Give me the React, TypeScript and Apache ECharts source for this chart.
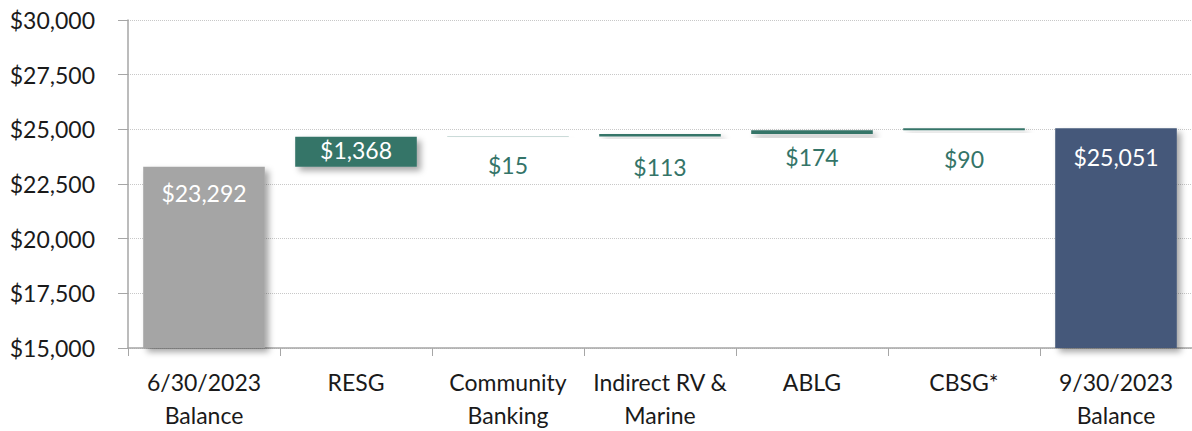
import React, { useEffect, useRef } from "react";
import * as echarts from "echarts";

const categories = [
  "6/30/2023\nBalance",
  "RESG",
  "Community\nBanking",
  "Indirect RV &\nMarine",
  "ABLG",
  "CBSG*",
  "9/30/2023\nBalance",
];
const startBalance = 23292;
const changes = [1368, 15, 113, 174, 90];
const endBalance = 25051;
const yTicks = [15000, 17500, 20000, 22500, 25000, 27500, 30000];

const GRAY = "#a5a5a5";
const GREEN = "#347468";
const NAVY = "#44597a";
const FONT = "Lato, 'Open Sans', sans-serif";
const FS = 23;
const labelGaps = [15, 0, 17, 19, 12, 17, 17];

const fmt = (v: number) => "$" + v.toLocaleString("en-US");

export default function App() {
  const ref = useRef<HTMLDivElement>(null);
  useEffect(() => {
    document.body.style.margin = "0";
    if (!ref.current) return;
    const chart = echarts.init(ref.current, null, { renderer: "svg" });

    const bases: number[] = [0];
    let run = startBalance;
    changes.forEach((c) => {
      bases.push(run);
      run += c;
    });
    bases.push(0);
    const values = [startBalance, ...changes, endBalance];

    const shadow = {
      shadowBlur: 6,
      shadowOffsetX: 4,
      shadowOffsetY: 4,
      shadowColor: "rgba(0,0,0,0.35)",
    };

    const data = values.map((v, i) => {
      let color = GREEN;
      let label: any = {
        show: true,
        position: "bottom",
        distance: labelGaps[i],
        color: GREEN,
        fontSize: FS,
        fontFamily: FONT,
      };
      if (i === 0) {
        color = GRAY;
        label = { ...label, position: "insideTop", color: "#ffffff" };
      } else if (i === values.length - 1) {
        color = NAVY;
        label = { ...label, position: "insideTop", color: "#ffffff" };
      } else if (i === 1) {
        label = { ...label, position: "inside", offset: [0, -2], color: "#ffffff" };
      }
      return {
        value: v,
        itemStyle: { color, ...shadow },
        label: { ...label, formatter: () => fmt(v) },
      };
    });

    chart.setOption({
      animation: false,
      grid: { left: 128, right: -1, top: 20, bottom: 83, containLabel: false },
      xAxis: {
        type: "category",
        data: categories,
        axisLine: { lineStyle: { color: "#a6a6a6", width: 1.5 } },
        axisTick: { show: true, length: 8, lineStyle: { color: "#a6a6a6" } },
        axisLabel: {
          color: "#1a1a1a",
          fontSize: FS,
          lineHeight: 33,
          margin: 17,
          fontFamily: FONT,
          interval: 0,
        },
      },
      yAxis: {
        type: "value",
        min: yTicks[0],
        max: yTicks[yTicks.length - 1],
        interval: yTicks[1] - yTicks[0],
        axisLine: { show: true, lineStyle: { color: "#a6a6a6", width: 1.5 } },
        axisTick: { show: true, length: 10, lineStyle: { color: "#a6a6a6" } },
        axisLabel: {
          color: "#1a1a1a",
          fontSize: FS,
          margin: 33,
          fontFamily: FONT,
          formatter: (v: number) => fmt(v),
        },
        splitLine: { show: true, lineStyle: { color: "#c8c8c8", type: "dotted" } },
      },
      series: [
        {
          type: "bar",
          stack: "w",
          data: bases,
          itemStyle: { color: "transparent" },
          barCategoryGap: "20%",
          silent: true,
        },
        {
          type: "bar",
          stack: "w",
          data,
          barCategoryGap: "20%",
        },
      ],
    });
    return () => chart.dispose();
  }, []);
  return <div ref={ref} style={{ width: 1192, height: 431 }} />;
}
